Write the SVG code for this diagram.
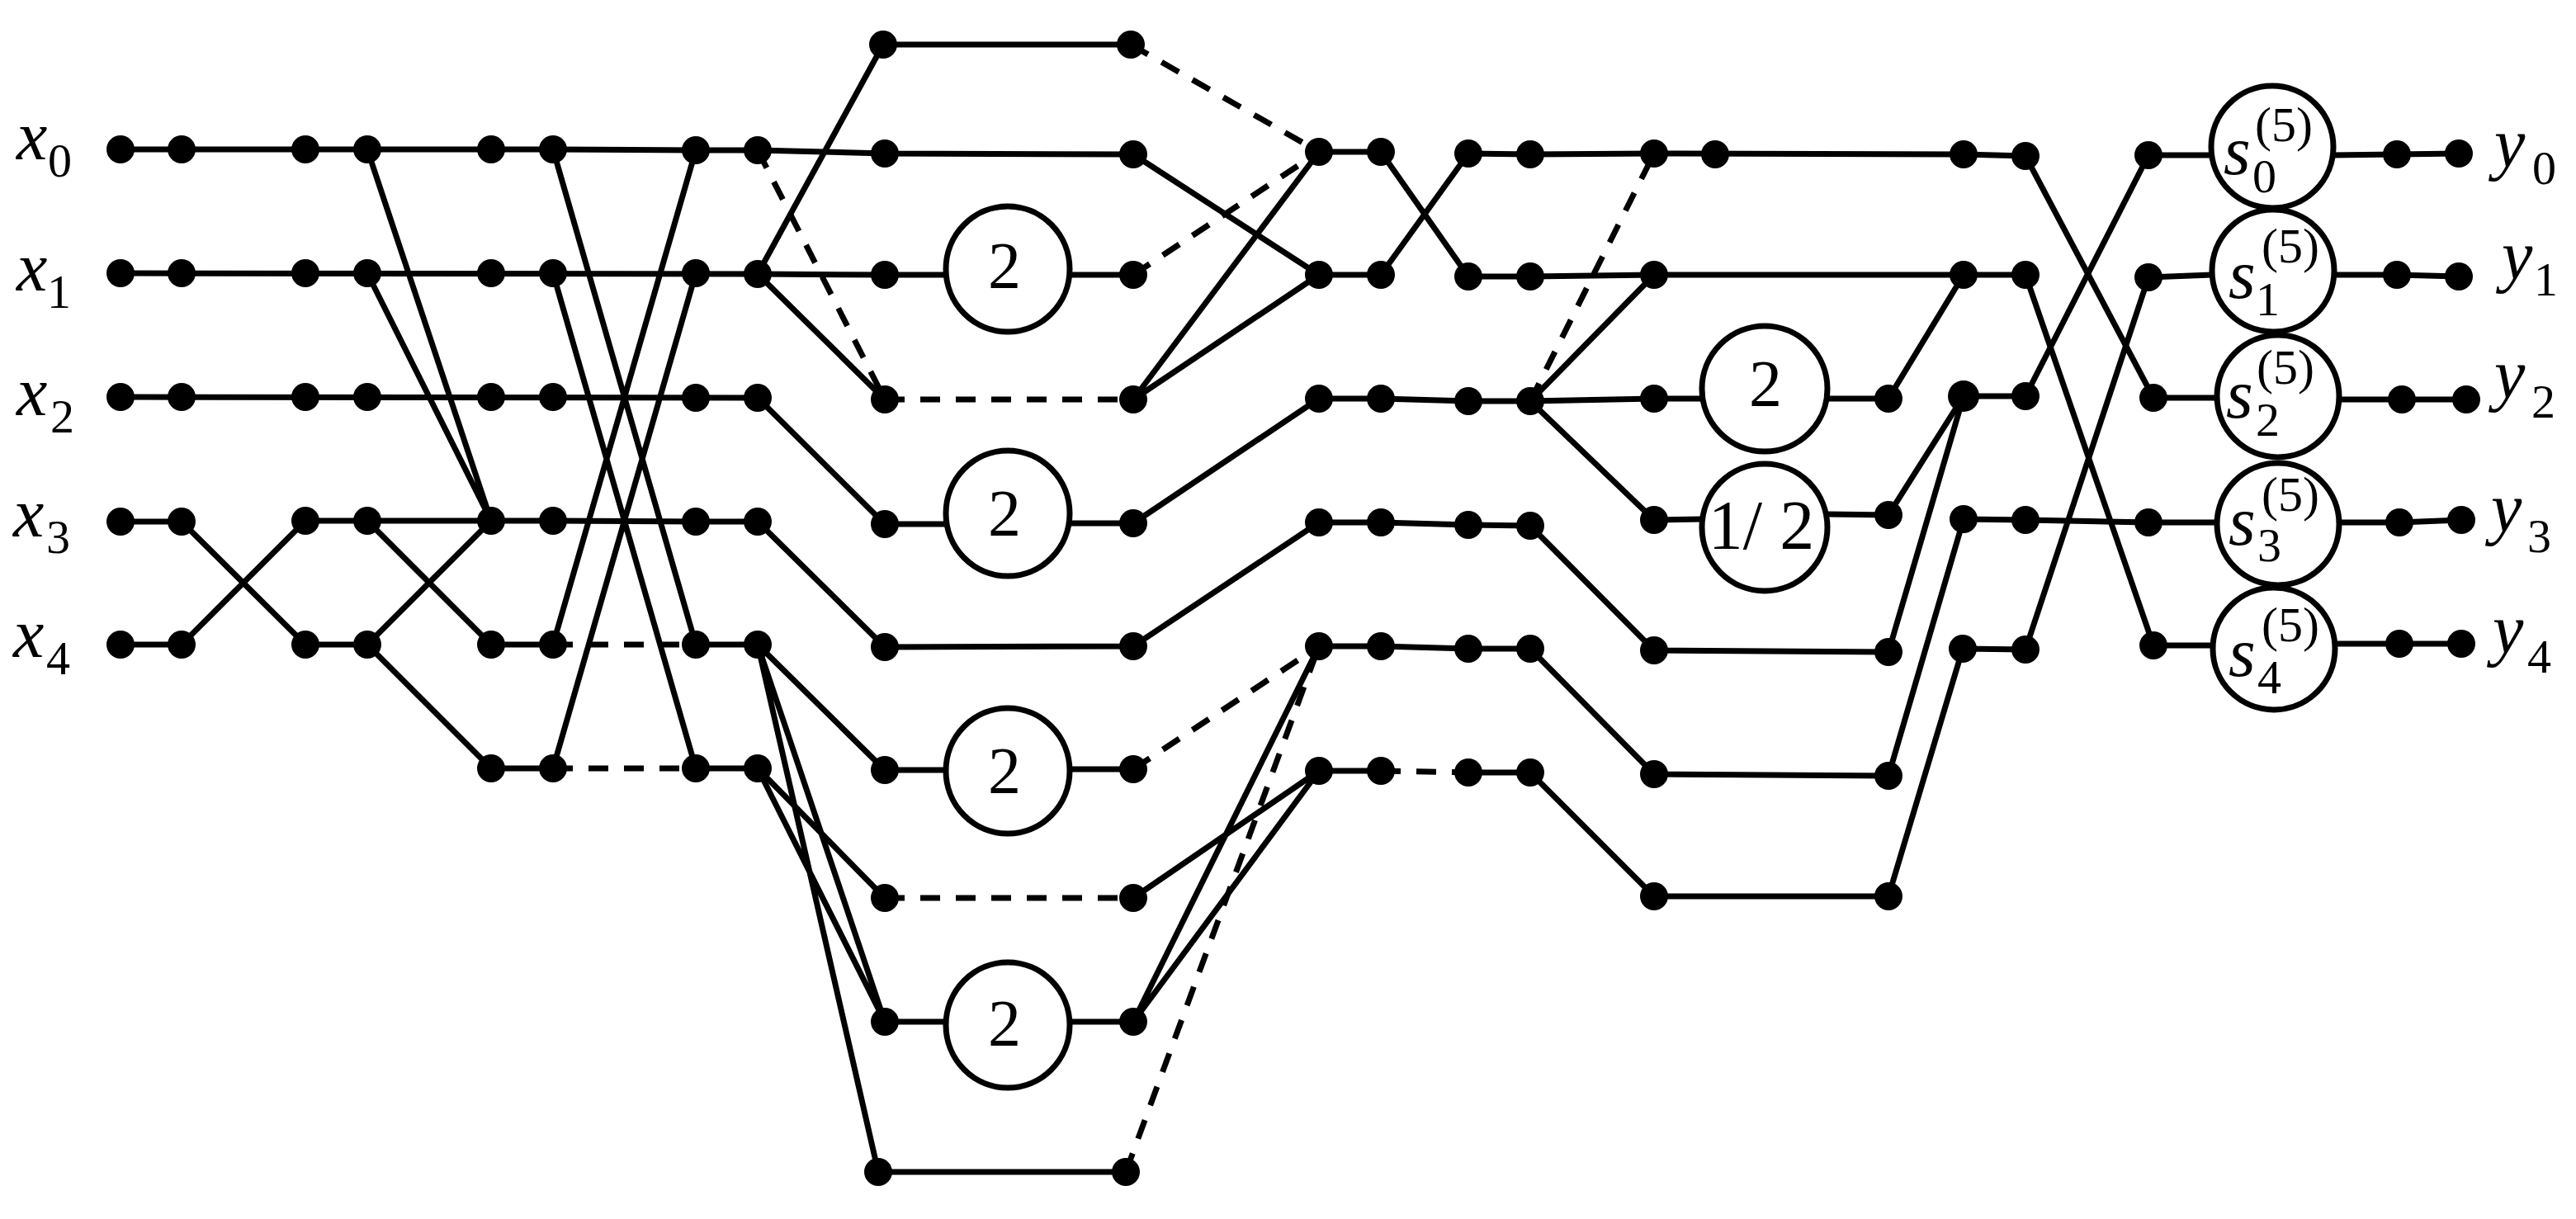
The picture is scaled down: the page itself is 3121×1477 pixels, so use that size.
<svg xmlns="http://www.w3.org/2000/svg" width="3121" height="1477" viewBox="0 0 3121 1477" font-family="'Liberation Serif','Times New Roman',serif">
<style>
.l{fill:none;stroke:#000;stroke-width:7;stroke-linejoin:round}
.k{fill:none;stroke:#000;stroke-width:7;stroke-dasharray:24 19}
.d{fill:#000}
.c{fill:#fff;stroke:#000;stroke-width:7}
text{fill:#000}
.v{font-size:84px;font-style:italic}
.s{font-size:58px}
.p{font-size:60px}
.g{font-size:80px;text-anchor:middle}
.h{font-size:84px;text-anchor:middle}
</style>
<rect width="3121" height="1477" fill="#fff"/>
<g id="connectors">
<path class="l" d="M146 181L670 181L843 182L918 182L1072 186L1373 187L1598 333L1673 333L1779 186L1854 187L2004 186L2379 187L2454 189L2609 482L2690 482"/>
<path class="l" d="M146 331L918 332L1072 333L1150 333M1296 333L1373 333"/>
<path class="l" d="M146 481L918 482L1072 635L1150 635M1296 634L1373 634L1598 483L1673 483L1779 486L1854 486"/>
<path class="l" d="M146 632L220 632L370 781L445 781L595 931L670 931M843 931L918 931L1072 1088"/>
<path class="l" d="M146 781L220 781L370 631L670 631L843 632L918 632L1072 784L1373 783L1598 633L1673 633L1779 636L1854 637L2004 788L2288 790L2379 480L2454 480L2603 188L2680 188"/>
<path class="l" d="M445 781L595 631M445 631L595 781L670 781M843 781L918 781L1072 933L1150 933M1296 932L1373 932"/>
<path class="l" d="M445 181L595 631M445 331L595 631M670 181L843 781M670 331L843 931M670 781L843 182M670 931L843 331"/>
<path class="l" d="M918 332L1070 54L1370 54M918 332L1072 484M1373 484L1598 184L1673 184L1779 335L1854 335L2004 333L2379 333L2454 333L2609 782L2680 782M1373 484L1598 333"/>
<path class="l" d="M918 781L1072 1238L1150 1238M918 781L1064 1420L1364 1420M918 931L1072 1238M1296 1238L1373 1238L1598 783M1373 1238L1598 934M1373 1088L1598 934L1673 934M1779 936L1854 936L2004 1086L2288 1086L2378 786L2454 787L2603 336L2680 333"/>
<path class="l" d="M1598 783L1673 783L1779 786L1854 786L2004 938L2288 940L2379 629L2454 630L2603 633L2685 633"/>
<path class="l" d="M1854 486L2004 333M1854 486L2004 483L2062 483M2214 483L2288 483L2379 333M1854 486L2004 630L2062 629M2214 623L2288 624L2379 480"/>
<path class="l" d="M2825 188L2904 187L2979 186M2825 333L2904 333L2979 335M2832 484L2910 484L2988 484M2832 633L2907 633L2982 630M2827 780L2907 780L2982 780"/>
<path class="k" d="M670 781L843 781M670 931L843 931M1370 54L1598 184M1373 333L1598 184M918 182L1072 484M1072 484L1373 484M1373 932L1598 783M1072 1088L1373 1088M1364 1420L1598 783M1673 934L1779 936M1854 486L2004 186"/>
</g>
<g id="gain1"><ellipse class="c" cx="1221" cy="326" rx="75" ry="76"/><text class="g" x="1217" y="349">2</text></g>
<g id="gain2"><ellipse class="c" cx="1221" cy="622" rx="75" ry="76"/><text class="g" x="1217" y="649">2</text></g>
<g id="gain3"><ellipse class="c" cx="1221" cy="934" rx="75" ry="76"/><text class="g" x="1217" y="961">2</text></g>
<g id="gain4"><ellipse class="c" cx="1221" cy="1242" rx="75" ry="76"/><text class="g" x="1217" y="1267">2</text></g>
<g id="gain5"><ellipse class="c" cx="2138" cy="471" rx="76" ry="76"/><text class="g" x="2139" y="492">2</text></g>
<g id="gain6"><ellipse class="c" cx="2138" cy="639" rx="76" ry="77"/><text class="h" x="2134" y="665">1/ 2</text></g>
<g id="s0"><circle class="c" cx="2753" cy="178" r="74"/><text class="v" x="2694" y="211">s</text><text class="s" x="2729" y="233">0</text><text class="p" x="2732" y="171">(5)</text></g>
<g id="s1"><circle class="c" cx="2754" cy="328" r="74"/><text class="v" x="2700" y="361">s</text><text class="s" x="2733" y="382">1</text><text class="p" x="2740" y="318">(5)</text></g>
<g id="s2"><circle class="c" cx="2760" cy="480" r="74"/><text class="v" x="2697" y="506">s</text><text class="s" x="2733" y="528">2</text><text class="p" x="2734" y="465">(5)</text></g>
<g id="s3"><circle class="c" cx="2760" cy="635" r="74"/><text class="v" x="2700" y="660">s</text><text class="s" x="2735" y="680">3</text><text class="p" x="2740" y="619">(5)</text></g>
<g id="s4"><circle class="c" cx="2755" cy="786" r="74"/><text class="v" x="2700" y="819">s</text><text class="s" x="2735" y="840">4</text><text class="p" x="2740" y="777">(5)</text></g>
<g id="lx0"><text class="v" x="20" y="193">x</text><text class="s" x="58" y="214">0</text></g>
<g id="lx1"><text class="v" x="20" y="352">x</text><text class="s" x="57" y="373">1</text></g>
<g id="lx2"><text class="v" x="20" y="503">x</text><text class="s" x="61" y="524">2</text></g>
<g id="lx3"><text class="v" x="16" y="650">x</text><text class="s" x="56" y="670">3</text></g>
<g id="lx4"><text class="v" x="16" y="796">x</text><text class="s" x="56" y="817">4</text></g>
<g id="ly0"><text class="v" x="3022" y="202">y</text><text class="s" x="3068" y="223">0</text></g>
<g id="ly1"><text class="v" x="3031" y="338">y</text><text class="s" x="3070" y="358">1</text></g>
<g id="ly2"><text class="v" x="3022" y="482">y</text><text class="s" x="3067" y="506">2</text></g>
<g id="ly3"><text class="v" x="3018" y="644">y</text><text class="s" x="3062" y="669">3</text></g>
<g id="ly4"><text class="v" x="3020" y="791">y</text><text class="s" x="3062" y="815">4</text></g>
<g id="dots">
<g id="a1"><circle class="d" cx="146" cy="181" r="17"/></g><g id="a2"><circle class="d" cx="146" cy="331" r="17"/></g><g id="a3"><circle class="d" cx="146" cy="481" r="17"/></g><g id="a4"><circle class="d" cx="146" cy="632" r="17"/></g><g id="a5"><circle class="d" cx="146" cy="781" r="17"/></g>
<g id="b1"><circle class="d" cx="220" cy="181" r="17"/></g><g id="b2"><circle class="d" cx="220" cy="331" r="17"/></g><g id="b3"><circle class="d" cx="220" cy="481" r="17"/></g><g id="b4"><circle class="d" cx="220" cy="632" r="17"/></g><g id="b5"><circle class="d" cx="220" cy="781" r="17"/></g>
<g id="c1"><circle class="d" cx="370" cy="181" r="17"/></g><g id="c2"><circle class="d" cx="370" cy="331" r="17"/></g><g id="c3"><circle class="d" cx="370" cy="481" r="17"/></g><g id="c4"><circle class="d" cx="370" cy="631" r="17"/></g><g id="c5"><circle class="d" cx="370" cy="781" r="17"/></g>
<g id="e1"><circle class="d" cx="445" cy="181" r="17"/></g><g id="e2"><circle class="d" cx="445" cy="331" r="17"/></g><g id="e3"><circle class="d" cx="445" cy="481" r="17"/></g><g id="e4"><circle class="d" cx="445" cy="631" r="17"/></g><g id="e5"><circle class="d" cx="445" cy="781" r="17"/></g>
<g id="f1"><circle class="d" cx="595" cy="181" r="17"/></g><g id="f2"><circle class="d" cx="595" cy="331" r="17"/></g><g id="f3"><circle class="d" cx="595" cy="481" r="17"/></g><g id="f4"><circle class="d" cx="595" cy="631" r="17"/></g><g id="f5"><circle class="d" cx="595" cy="781" r="17"/></g><g id="f6"><circle class="d" cx="595" cy="931" r="17"/></g>
<g id="h1"><circle class="d" cx="670" cy="181" r="17"/></g><g id="h2"><circle class="d" cx="670" cy="331" r="17"/></g><g id="h3"><circle class="d" cx="670" cy="481" r="17"/></g><g id="h4"><circle class="d" cx="670" cy="631" r="17"/></g><g id="h5"><circle class="d" cx="670" cy="781" r="17"/></g><g id="h6"><circle class="d" cx="670" cy="931" r="17"/></g>
<g id="i1"><circle class="d" cx="843" cy="182" r="17"/></g><g id="i2"><circle class="d" cx="843" cy="331" r="17"/></g><g id="i3"><circle class="d" cx="843" cy="482" r="17"/></g><g id="i4"><circle class="d" cx="843" cy="632" r="17"/></g><g id="i5"><circle class="d" cx="843" cy="781" r="17"/></g><g id="i6"><circle class="d" cx="843" cy="931" r="17"/></g>
<g id="j1"><circle class="d" cx="918" cy="182" r="17"/></g><g id="j2"><circle class="d" cx="918" cy="332" r="17"/></g><g id="j3"><circle class="d" cx="918" cy="482" r="17"/></g><g id="j4"><circle class="d" cx="918" cy="632" r="17"/></g><g id="j5"><circle class="d" cx="918" cy="781" r="17"/></g><g id="j6"><circle class="d" cx="918" cy="931" r="17"/></g>
<g id="m0"><circle class="d" cx="1070" cy="54" r="17"/></g><g id="m1"><circle class="d" cx="1072" cy="186" r="17"/></g><g id="m2"><circle class="d" cx="1072" cy="333" r="17"/></g><g id="m3"><circle class="d" cx="1072" cy="484" r="17"/></g><g id="m4"><circle class="d" cx="1072" cy="635" r="17"/></g><g id="m5"><circle class="d" cx="1072" cy="784" r="17"/></g><g id="m6"><circle class="d" cx="1072" cy="933" r="17"/></g><g id="m7"><circle class="d" cx="1072" cy="1088" r="17"/></g><g id="m8"><circle class="d" cx="1072" cy="1238" r="17"/></g><g id="m9"><circle class="d" cx="1064" cy="1420" r="17"/></g>
<g id="o0"><circle class="d" cx="1370" cy="54" r="17"/></g><g id="o1"><circle class="d" cx="1373" cy="187" r="17"/></g><g id="o2"><circle class="d" cx="1373" cy="333" r="17"/></g><g id="o3"><circle class="d" cx="1373" cy="484" r="17"/></g><g id="o4"><circle class="d" cx="1373" cy="634" r="17"/></g><g id="o5"><circle class="d" cx="1373" cy="783" r="17"/></g><g id="o6"><circle class="d" cx="1373" cy="932" r="17"/></g><g id="o7"><circle class="d" cx="1373" cy="1088" r="17"/></g><g id="o8"><circle class="d" cx="1373" cy="1238" r="17"/></g><g id="o9"><circle class="d" cx="1364" cy="1420" r="17"/></g>
<g id="p1"><circle class="d" cx="1598" cy="184" r="17"/></g><g id="p2"><circle class="d" cx="1598" cy="333" r="17"/></g><g id="p3"><circle class="d" cx="1598" cy="483" r="17"/></g><g id="p4"><circle class="d" cx="1598" cy="633" r="17"/></g><g id="p5"><circle class="d" cx="1598" cy="783" r="17"/></g><g id="p6"><circle class="d" cx="1598" cy="934" r="17"/></g>
<g id="q1"><circle class="d" cx="1673" cy="184" r="17"/></g><g id="q2"><circle class="d" cx="1673" cy="333" r="17"/></g><g id="q3"><circle class="d" cx="1673" cy="483" r="17"/></g><g id="q4"><circle class="d" cx="1673" cy="633" r="17"/></g><g id="q5"><circle class="d" cx="1673" cy="783" r="17"/></g><g id="q6"><circle class="d" cx="1673" cy="934" r="17"/></g>
<g id="r1"><circle class="d" cx="1779" cy="186" r="17"/></g><g id="r2"><circle class="d" cx="1779" cy="335" r="17"/></g><g id="r3"><circle class="d" cx="1779" cy="486" r="17"/></g><g id="r4"><circle class="d" cx="1779" cy="636" r="17"/></g><g id="r5"><circle class="d" cx="1779" cy="786" r="17"/></g><g id="r6"><circle class="d" cx="1779" cy="936" r="17"/></g>
<g id="t1"><circle class="d" cx="1854" cy="187" r="17"/></g><g id="t2"><circle class="d" cx="1854" cy="335" r="17"/></g><g id="t3"><circle class="d" cx="1854" cy="486" r="17"/></g><g id="t4"><circle class="d" cx="1854" cy="637" r="17"/></g><g id="t5"><circle class="d" cx="1854" cy="786" r="17"/></g><g id="t6"><circle class="d" cx="1854" cy="936" r="17"/></g>
<g id="u1"><circle class="d" cx="2004" cy="186" r="17"/></g><g id="u2"><circle class="d" cx="2004" cy="333" r="17"/></g><g id="u3"><circle class="d" cx="2004" cy="483" r="17"/></g><g id="u4"><circle class="d" cx="2004" cy="630" r="17"/></g><g id="u5"><circle class="d" cx="2004" cy="788" r="17"/></g><g id="u6"><circle class="d" cx="2004" cy="938" r="17"/></g><g id="u7"><circle class="d" cx="2004" cy="1086" r="17"/></g>
<g id="w1"><circle class="d" cx="2078" cy="187" r="17"/></g>
<g id="v3"><circle class="d" cx="2288" cy="483" r="17"/></g><g id="v4"><circle class="d" cx="2288" cy="624" r="17"/></g><g id="v5"><circle class="d" cx="2288" cy="790" r="17"/></g><g id="v6"><circle class="d" cx="2288" cy="940" r="17"/></g><g id="v7"><circle class="d" cx="2288" cy="1086" r="17"/></g>
<g id="x1"><circle class="d" cx="2379" cy="187" r="17"/></g><g id="x2"><circle class="d" cx="2379" cy="333" r="17"/></g><g id="x3"><circle class="d" cx="2379" cy="480" r="19"/></g><g id="x4"><circle class="d" cx="2379" cy="629" r="17"/></g><g id="x5"><circle class="d" cx="2378" cy="786" r="17"/></g>
<g id="y1"><circle class="d" cx="2454" cy="189" r="17"/></g><g id="y2"><circle class="d" cx="2454" cy="333" r="17"/></g><g id="y3"><circle class="d" cx="2454" cy="480" r="17"/></g><g id="y4"><circle class="d" cx="2454" cy="630" r="17"/></g><g id="y5"><circle class="d" cx="2454" cy="787" r="17"/></g>
<g id="z1"><circle class="d" cx="2603" cy="188" r="17"/></g><g id="z2"><circle class="d" cx="2603" cy="336" r="17"/></g><g id="z3"><circle class="d" cx="2609" cy="482" r="17"/></g><g id="z4"><circle class="d" cx="2603" cy="633" r="17"/></g><g id="z5"><circle class="d" cx="2609" cy="782" r="17"/></g>
<g id="aa1"><circle class="d" cx="2904" cy="187" r="17"/></g><g id="aa2"><circle class="d" cx="2904" cy="333" r="17"/></g><g id="aa3"><circle class="d" cx="2910" cy="484" r="17"/></g><g id="aa4"><circle class="d" cx="2907" cy="633" r="17"/></g><g id="aa5"><circle class="d" cx="2907" cy="780" r="17"/></g>
<g id="ab1"><circle class="d" cx="2979" cy="186" r="17"/></g><g id="ab2"><circle class="d" cx="2979" cy="335" r="17"/></g><g id="ab3"><circle class="d" cx="2988" cy="484" r="17"/></g><g id="ab4"><circle class="d" cx="2982" cy="630" r="17"/></g><g id="ab5"><circle class="d" cx="2982" cy="780" r="17"/></g>
</g>
</svg>
